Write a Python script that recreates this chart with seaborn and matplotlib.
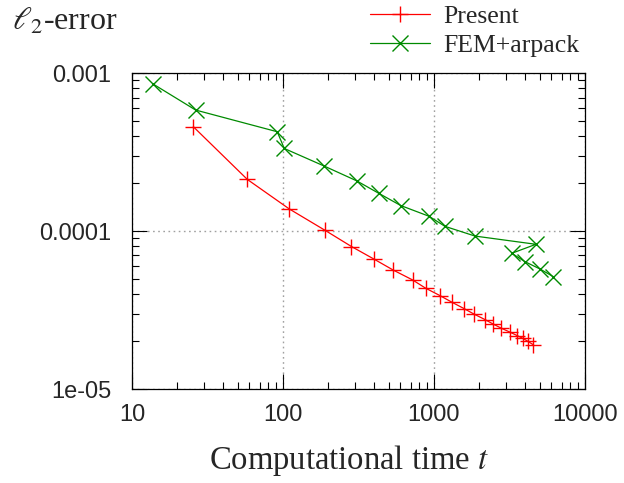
import numpy as np
import pandas as pd
import matplotlib
matplotlib.use("Agg")
import matplotlib.pyplot as plt
import matplotlib.ticker as mticker
import seaborn as sns

# Datos
present_t = [25.5, 58.1, 110, 190, 284, 403, 537, 722, 879, 1096, 1316, 1580,
             1841, 2177, 2460, 2781, 3187, 3548, 3883, 4196, 4530]
present_err = [4.57e-4, 2.12e-4, 1.38e-4, 1.01e-4, 7.98e-5, 6.62e-5, 5.66e-5,
               4.90e-5, 4.35e-5, 3.90e-5, 3.54e-5, 3.23e-5, 2.98e-5, 2.75e-5,
               2.58e-5, 2.43e-5, 2.29e-5, 2.18e-5, 2.09e-5, 2.00e-5, 1.91e-5]

fem_t = [13.8, 26.4, 91.6, 102, 187, 307, 432, 602, 927, 1183, 1870,
         4732, 3274, 4010, 5035, 6166]
fem_err = [8.52e-4, 5.83e-4, 4.25e-4, 3.33e-4, 2.58e-4, 2.08e-4, 1.73e-4,
           1.45e-4, 1.24e-4, 1.07e-4, 9.29e-5, 8.24e-5, 7.23e-5, 6.39e-5,
           5.75e-5, 5.14e-5]

xticks = [10, 100, 1000, 10000]
xtick_labels = ["10", "100", "1000", "10000"]
yticks = [1e-5, 1e-4, 1e-3]
ytick_labels = ["1e-05", "0.0001", "0.001"]

df_present = pd.DataFrame({"t": present_t, "err": present_err})
df_fem = pd.DataFrame({"t": fem_t, "err": fem_err})

sns.set_style("ticks")
plt.rcParams["font.family"] = ["Liberation Sans", "DejaVu Sans"]
plt.rcParams["mathtext.fontset"] = "stix"

fig = plt.figure(figsize=(6.24, 4.83), dpi=100)
ax = fig.add_axes([0.2115, 0.1946, 0.7260, 0.6542])

rojo = "#ff0000"
verde = "#008a00"

sns.lineplot(data=df_present, x="t", y="err", ax=ax, color=rojo,
             marker="+", markersize=12, mew=1.0, mec=rojo, lw=0.9, sort=False,
             estimator=None, label="Present")
sns.lineplot(data=df_fem, x="t", y="err", ax=ax, color=verde,
             marker="x", markersize=12, mew=1.0, mec=verde, lw=0.9, sort=False,
             estimator=None, label="FEM+arpack")

ax.set_xscale("log")
ax.set_yscale("log")
ax.set_xlim(10, 10000)
ax.set_ylim(1e-5, 1e-3)

ax.xaxis.set_major_locator(mticker.FixedLocator(xticks))
ax.xaxis.set_major_formatter(mticker.FixedFormatter(xtick_labels))
ax.yaxis.set_major_locator(mticker.FixedLocator(yticks))
ax.yaxis.set_major_formatter(mticker.FixedFormatter(ytick_labels))
ax.xaxis.set_minor_locator(mticker.LogLocator(base=10, subs=np.arange(2, 10)))
ax.yaxis.set_minor_locator(mticker.LogLocator(base=10, subs=np.arange(2, 10)))
ax.xaxis.set_minor_formatter(mticker.NullFormatter())
ax.yaxis.set_minor_formatter(mticker.NullFormatter())

ax.tick_params(which="both", direction="in", top=True, right=True,
               width=0.8, color="black")
ax.tick_params(which="major", length=10.5, labelsize=17)
ax.tick_params(which="minor", length=5)
ax.tick_params(axis="y", which="major", pad=15)
ax.tick_params(axis="x", which="major", pad=11)

for s in ax.spines.values():
    s.set_linewidth(0.9)
    s.set_color("black")

ax.grid(which="major", color="#a0a0a0", linestyle=(0, (1.2, 2.5)), lw=1.0)

ax.set_xlabel("Computational time $t$", fontsize=23.5,
              family="Liberation Serif", va="center")
ax.xaxis.set_label_coords(0.48, -0.225)
ax.set_ylabel(r"$\ell_2$-error", fontsize=23, rotation=0, ha="left",
              va="center", family="Liberation Serif")
ax.yaxis.set_label_coords(-0.265, 1.162)

ax.legend(loc="upper left", bbox_to_anchor=(370 / 624, 0.99),
          bbox_transform=fig.transFigure, frameon=False,
          prop={"family": "Liberation Serif", "size": 18.5},
          handlelength=2.35, handletextpad=0.5, labelspacing=0.25,
          borderpad=0, borderaxespad=0)

fig.savefig("out.png", dpi=100)
